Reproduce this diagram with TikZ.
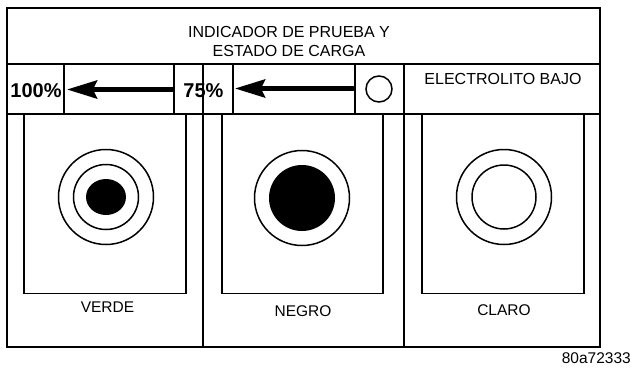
\documentclass[tikz,border=0pt]{standalone}
\usepackage{fontspec}
\setmainfont{Liberation Sans}
\usetikzlibrary{arrows.meta,positioning,shapes.geometric}

\begin{document}
\begin{tikzpicture}[
  x=1pt, y=-1pt,
  frame/.style={line width=1.8pt},
  box/.style={line width=1.8pt},
  ring/.style={line width=1.5pt},
  txt/.style={inner sep=0pt, font=\fontsize{16}{19}\selectfont},
  pct/.style={inner sep=0pt, font=\fontsize{20}{22}\selectfont\bfseries, anchor=base},
  lbl/.style={inner sep=0pt, font=\fontsize{15.5}{18}\selectfont, anchor=base},
  arr/.style={-{Stealth[length=30pt, width=18pt, inset=4pt]}, line width=4.5pt},
]
\useasboundingbox (0,0) rectangle (632,367);

\draw[frame] (7,8) rectangle (600,347);
\draw[frame] (7,64) -- (600,64);
\draw[frame] (7,114) -- (600,114);
\foreach \x in {64,174,233,355}
  \draw[frame] (\x,64) -- (\x,114);
\foreach \x in {203,404}
  \draw[frame] (\x,64) -- (\x,347);

\foreach \l/\r in {24/186,222/383,422/584}
  \draw[box] (\l,114) -- (\l,293.5) -- (\r,293.5) -- (\r,114);

\node[txt, align=center] (title) at (289,41.5) {INDICADOR DE PRUEBA Y\\ESTADO DE CARGA};

\node[pct] (p100) at (36,97) {100\%};
\node[pct] (p75) at (203.5,97) {75\%};
\coordinate (s100) at (174,89.5);
\coordinate (t100) at (67,89.5);
\coordinate (s75) at (355,88.5);
\coordinate (t75) at (235,88.5);
\draw[arr] (s100) -- (t100);
\draw[arr] (s75) -- (t75);
\node[draw, circle, ring, minimum size=26pt, inner sep=0pt] (low) at (379,89) {};
\node[txt, anchor=base] (elec) at (503,84) {ELECTROLITO BAJO};

\node[circle, draw, ring, minimum size=95pt, inner sep=0pt] (verdeo) at (106,197) {};
\node[circle, draw, ring, minimum size=65pt, inner sep=0pt] (verdei) at (106,197) {};
\node[ellipse, fill, minimum width=40pt, minimum height=36pt, inner sep=0pt] (verdec) at (106,197) {};
\node[lbl] (verde) at (107.5,312) {VERDE};

\node[circle, draw, ring, minimum size=95pt, inner sep=0pt] (negroo) at (302,198) {};
\node[circle, fill, minimum size=66pt, inner sep=0pt] (negroc) at (302,198) {};
\node[lbl] (negro) at (303,316) {NEGRO};

\node[circle, draw, ring, minimum size=95pt, inner sep=0pt] (claroo) at (504,197) {};
\node[circle, draw, ring, minimum size=64pt, inner sep=0pt] (claroi) at (504,197) {};
\node[lbl] (claro) at (504,315) {CLARO};

\node[lbl, anchor=base east] (code) at (631,363) {80a72333};
\end{tikzpicture}
\end{document}
